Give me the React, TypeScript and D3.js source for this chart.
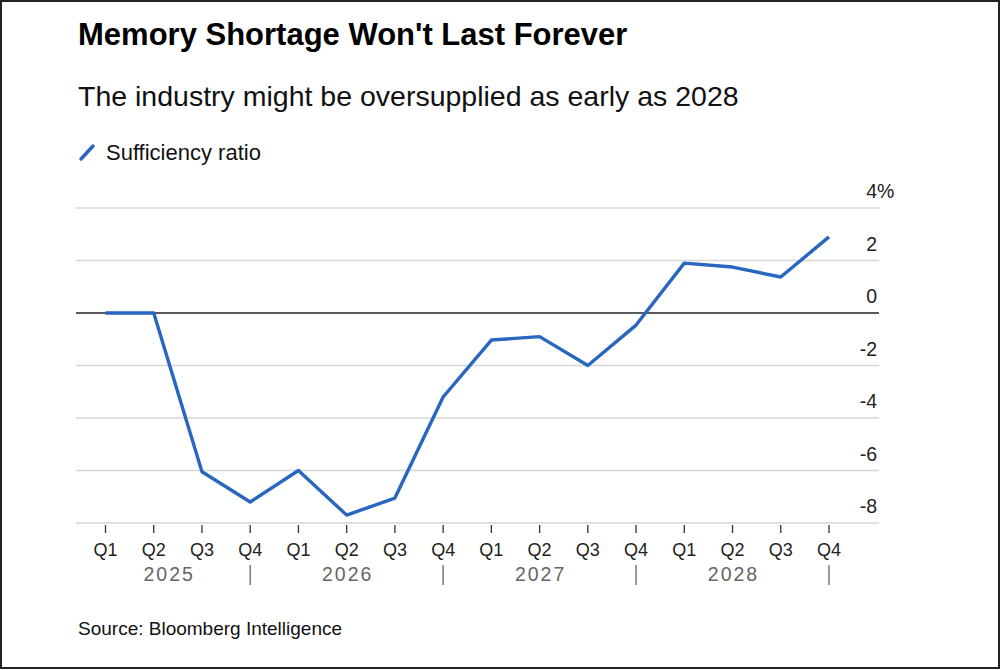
import * as React from 'react';
import * as d3 from 'd3';

const quarters = [
    'Q1', 'Q2', 'Q3', 'Q4',
    'Q1', 'Q2', 'Q3', 'Q4',
    'Q1', 'Q2', 'Q3', 'Q4',
    'Q1', 'Q2', 'Q3', 'Q4',
];
const years = ['2025', '2026', '2027', '2028'];
const sufficiency = [
    0, 0, -6.05, -7.2,
    -6.0, -7.7, -7.05, -3.2,
    -1.03, -0.9, -2.0, -0.46,
    1.9, 1.75, 1.37, 2.9,
];
const yTicks = [4, 2, 0, -2, -4, -6, -8];

const W = 1002;
const H = 670;
const font = '"Liberation Sans", Arial, Helvetica, sans-serif';
const blue = '#2866c0';

export default function App() {
    const x = d3.scalePoint<number>()
        .domain(d3.range(quarters.length))
        .range([105.5, 829]);
    const y = d3.scaleLinear()
        .domain([-8, 4])
        .range([523, 208]);

    const gridLeft = 76;
    const gridRight = 879;
    const step = x.step();

    const line = d3.line<number>()
        .x((_, i) => x(i)!)
        .y(d => y(d));

    // year boundaries sit at each Q4 tick, the first year starts a bit left of Q1
    const yearCenters = years.map((_, i) => {
        const right = x(i*4 + 3)!;
        const left = i === 0 ? x(0)! - step*0.4 : x(i*4 - 1)!;
        return (left + right)/2;
    });

    return (
        <svg width={W} height={H} style={{ position: 'fixed', left: 0, top: 0, background: '#fff' }}
            fontFamily={font}>
            <rect x={1} y={1} width={W - 4} height={H - 3} fill='#fff' stroke='#222' strokeWidth={2} />

            <text x={78} y={45} fontSize={31} fontWeight='bold' fill='#000'>
                Memory Shortage Won't Last Forever
            </text>
            <text x={78} y={106} fontSize={28.5} fill='#111'>
                The industry might be oversupplied as early as 2028
            </text>

            <line x1={81} y1={159} x2={93} y2={146} stroke={blue} strokeWidth={3.5} strokeLinecap='round' />
            <text x={106} y={160} fontSize={22} fill='#111'>Sufficiency ratio</text>

            {yTicks.map(t => (
                <g key={t}>
                    <line x1={gridLeft} x2={gridRight} y1={y(t)} y2={y(t)}
                        stroke={t === 0 ? '#222' : '#d6d6d6'} strokeWidth={t === 0 ? 1.6 : 1.4} />
                    <text x={877} y={y(t) - 10} fontSize={19.5} textAnchor='end' fill='#222'>
                        {t}
                    </text>
                    {t === 4 && <text x={877} y={y(t) - 10} fontSize={19.5} fill='#222'>%</text>}
                </g>
            ))}

            {quarters.map((q, i) => (
                <g key={i}>
                    <line x1={x(i)} x2={x(i)} y1={y(-8) + 2} y2={y(-8) + 10} stroke='#333' strokeWidth={1.3} />
                    <text x={x(i)} y={556} fontSize={18} textAnchor='middle' fill='#222'>{q}</text>
                </g>
            ))}

            {years.map((yr, i) => (
                <g key={yr}>
                    <text x={yearCenters[i] + 1} y={580.5} fontSize={19.5} letterSpacing={2}
                        textAnchor='middle' fill='#666'>{yr}</text>
                    <line x1={x(i*4 + 3)} x2={x(i*4 + 3)} y1={565} y2={585} stroke='#666' strokeWidth={1.3} />
                </g>
            ))}

            <path d={line(sufficiency)!} fill='none' stroke={blue} strokeWidth={3.4}
                strokeLinejoin='round' strokeLinecap='butt' />

            <text x={78} y={635} fontSize={19} fill='#111'>Source: Bloomberg Intelligence</text>
        </svg>
    );
}
